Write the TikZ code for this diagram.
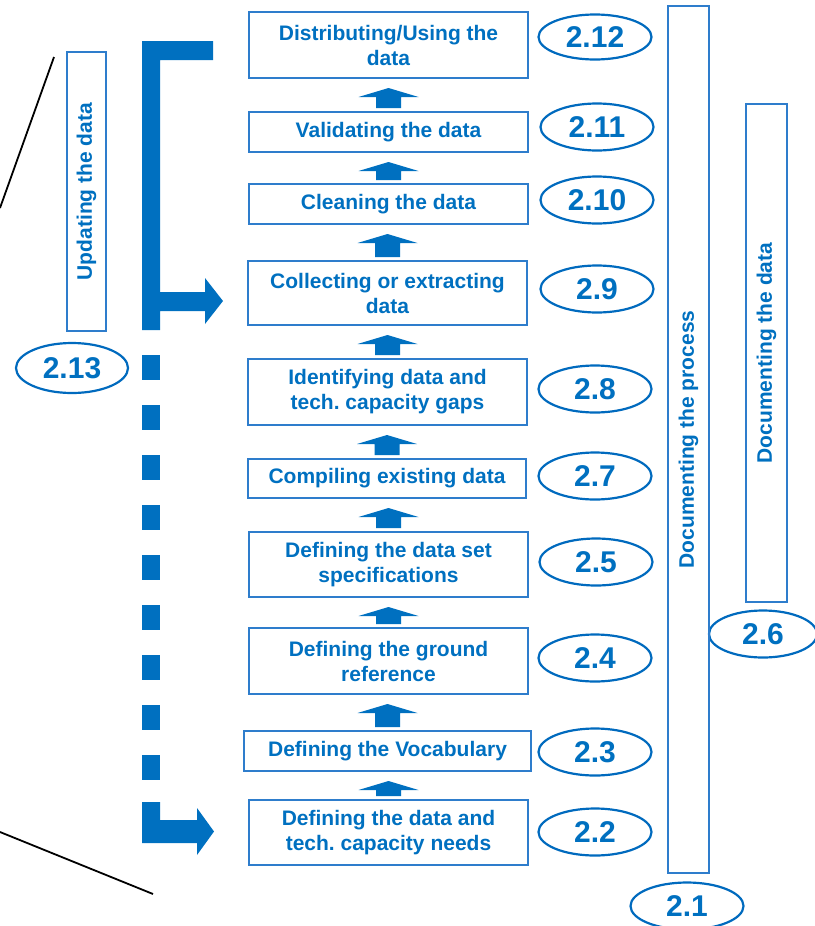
\documentclass[tikz,border=0pt]{standalone}
\usepackage{fontspec}
\setmainfont{Liberation Sans}
\usetikzlibrary{calc,shapes.geometric}
\definecolor{blu}{RGB}{0,112,192}
\definecolor{boxc}{RGB}{46,125,204}
\definecolor{ellc}{RGB}{0,106,190}
\newcommand\myuparrow[2]{%
  \fill[blu] let \p1=(#1.north), \p2=(#2.south) in
    (\x1-12.5pt,\y1+3pt) -- (\x1-12.5pt,\y2-18pt) -- (\x1-30pt,\y2-18pt) --
    (\x1,\y2-9pt) -- (\x1+30pt,\y2-18pt) -- (\x1+12.5pt,\y2-18pt) --
    (\x1+12.5pt,\y1+3pt) -- cycle;}
\frenchspacing
\begin{document}
\begin{tikzpicture}[x=1pt,y=-1pt,
  stepbox/.style={draw=boxc,line width=2pt,inner sep=0pt,minimum width=279pt,
    align=center,text=blu,font=\fontsize{21}{25}\selectfont\bfseries},
  numell/.style={ellipse,draw=ellc,line width=2.2pt,inner sep=0pt,
    minimum width=113pt,minimum height=47pt,text=blu,
    font=\fontsize{30}{32}\selectfont\bfseries},
  sidebox/.style={draw=boxc,line width=2pt,inner sep=0pt,rotate=90,text=blu,
    font=\fontsize{21}{25}\selectfont\bfseries},
  lnk/.style={black,line width=1.8pt}]
\useasboundingbox (0,0) rectangle (814,926);

% step boxes
\node[stepbox,minimum height=66pt] (b12) at (388.5,45) {Distributing/Using the\\data};
\node[stepbox,minimum height=40pt] (b11) at (388.5,132) {Validating the data};
\node[stepbox,minimum height=40pt] (b10) at (388.5,204) {Cleaning the data};
\node[stepbox,minimum height=64pt] (b9) at (387.5,293) {Collecting or extracting\\data};
\node[stepbox,minimum height=66pt] (b8) at (387.5,392) {Identifying data and\\tech. capacity gaps};
\node[stepbox,minimum height=39pt,minimum width=278pt] (b7) at (387,478.5) {Compiling existing data};
\node[stepbox,minimum height=65pt] (b5) at (388.5,564.5) {Defining the data set\\specifications};
\node[stepbox,minimum height=66pt] (b4) at (388.5,661) {Defining the ground\\reference};
\node[stepbox,minimum height=40pt,minimum width=287pt] (b3) at (387.5,751) {Defining the Vocabulary};
\node[stepbox,minimum height=65pt] (b2) at (388.5,832.5) {Defining the data and\\tech. capacity needs};

% arrows between steps
\myuparrow{b11}{b12}
\myuparrow{b10}{b11}
\myuparrow{b9}{b10}
\myuparrow{b8}{b9}
\myuparrow{b7}{b8}
\myuparrow{b5}{b7}
\myuparrow{b4}{b5}
\myuparrow{b3}{b4}
\myuparrow{b2}{b3}

% number ellipses
\node[numell,minimum height=45pt] (e12) at (595,37) {2.12};
\node[numell] (e11) at (597,127) {2.11};
\node[numell] (e10) at (597,200) {2.10};
\node[numell] (e9) at (597,289) {2.9};
\node[numell] (e8) at (595,389) {2.8};
\node[numell] (e7) at (595,476) {2.7};
\node[numell] (e5) at (596,562) {2.5};
\node[numell] (e4) at (595,658) {2.4};
\node[numell] (e3) at (595,752) {2.3};
\node[numell] (e2) at (595,832) {2.2};
\node[numell,minimum width=108pt] (e6) at (763,634) {2.6};
\node[numell] (e1) at (687,906) {2.1};
\node[numell,minimum width=112pt,minimum height=50pt] (e13) at (72,368) {2.13};

% side boxes
\node[sidebox,minimum width=867pt,minimum height=41pt] (proc) at (688.5,439.5) {Documenting the process};
\node[sidebox,minimum width=498pt,minimum height=41pt] (docd) at (766.5,353) {Documenting the data};
\node[sidebox,minimum width=279pt,minimum height=39pt] (upd) at (86.5,191.5) {Updating the data};

% update bracket
\fill[blu] (142,41) -- (213,41) -- (213,60) -- (160,60) -- (160,292) -- (205,292)
  -- (205,278) -- (223,301) -- (205,324) -- (205,311) -- (160,311) -- (160,330)
  -- (142,330) -- cycle;
\foreach \k in {0,...,8} \fill[blu] (142,355+50*\k) rectangle (160,380+50*\k);
\fill[blu] (142,802) -- (160,802) -- (160,820) -- (197,820) -- (197,808)
  -- (214,831.5) -- (197,855) -- (197,843) -- (142,843) -- cycle;

% black lines
\draw[lnk] (54,57) -- (0,208);
\draw[lnk] (0,832) -- (153,894);
\end{tikzpicture}
\end{document}
